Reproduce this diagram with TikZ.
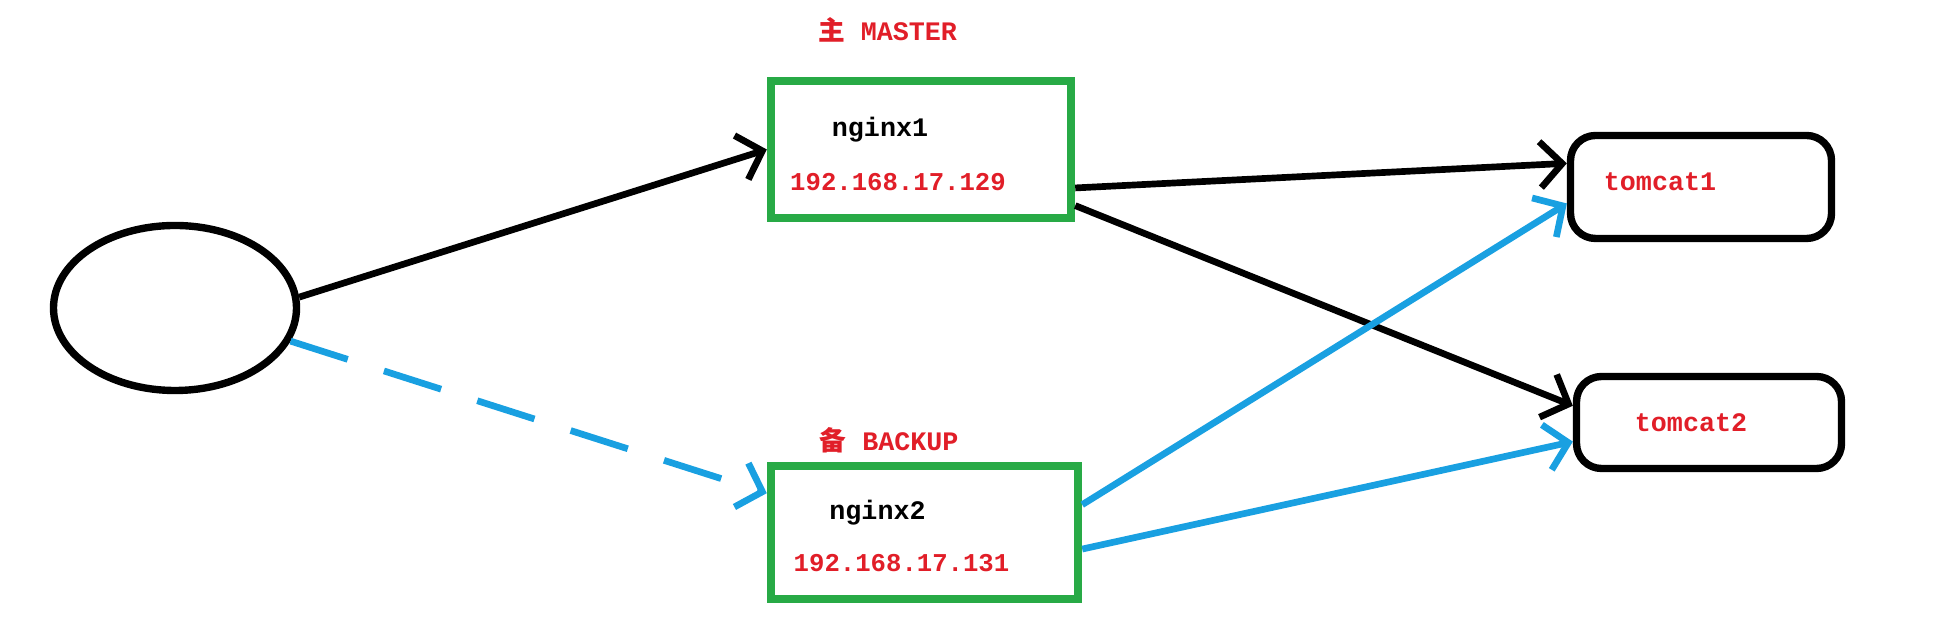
\documentclass[tikz,border=0pt]{standalone}
\usepackage{fontspec}
\setmonofont{Liberation Mono}
\newfontfamily\cjk{Noto Sans CJK SC}
\usepackage{tikz}
\usetikzlibrary{arrows.meta}
\usetikzlibrary{positioning}
\usetikzlibrary{shapes.geometric}
\definecolor{ipred}{RGB}{225,30,40}
\definecolor{boxgreen}{RGB}{40,170,70}
\definecolor{linkblue}{RGB}{25,160,225}

\begin{document}
\begin{tikzpicture}[every node/.style={font=\ttfamily\bfseries\fontsize{7.6}{9}\selectfont,inner sep=0pt},
  nginxbox/.style={draw=boxgreen,line width=2.4pt,rectangle},
  tomcatbox/.style={draw,line width=2.1pt,rectangle,rounded corners=0.25cm},
  redtext/.style={text=ipred},
  link/.style={line width=1.9pt,-{Straight Barb[length=2.2mm,width=4.6mm]}}]
\useasboundingbox (0,0) rectangle (19.38,6.33);
  \node[draw,ellipse,line width=2.1pt,minimum width=2.43cm,minimum height=1.65cm] (client) at (1.75,3.25){};
  \node[nginxbox,minimum width=3cm,minimum height=1.37cm] (nginx1) at (9.21,4.835){};
  \node[nginxbox,minimum width=3.07cm,minimum height=1.33cm] (nginx2) at (9.245,1.005){};
  \node[tomcatbox,minimum width=2.61cm,minimum height=1.03cm] (tomcat1) at (17.01,4.46){};
  \node[tomcatbox,minimum width=2.65cm,minimum height=0.92cm] (tomcat2) at (17.09,2.105){};
%labels
  \node[redtext] (master) at (8.875,6.03){{\cjk 主} MASTER};
  \node[redtext] (backup) at (8.89,1.93){{\cjk 备} BACKUP};
  \node (name1) at (8.80,5.03){nginx1};
  \node[redtext,font=\ttfamily\bfseries\fontsize{7.3}{9}\selectfont] (ip1) at (8.98,4.51){192.168.17.129};
  \node (name2) at (8.775,1.20){nginx2};
  \node[redtext,font=\ttfamily\bfseries\fontsize{7.3}{9}\selectfont] (ip2) at (9.015,0.70){192.168.17.131};
  \node[redtext] (tc1) at (16.60,4.51){tomcat1};
  \node[redtext] (tc2) at (16.91,2.10){tomcat2};
  \draw[link](client.5)--(nginx1.west);
  \draw[link,linkblue,dash pattern=on 6mm off 3.8mm](client.-16)--(nginx2.166);
  \draw[link](nginx1.-14)--(tomcat1.170);
  \draw[link](nginx1.-20)--(tomcat2.173);
  \draw[link,linkblue](nginx2.10)--(tomcat1.187);
  \draw[link,linkblue](nginx2.-6)--(tomcat2.188);
\end{tikzpicture}
\end{document}
